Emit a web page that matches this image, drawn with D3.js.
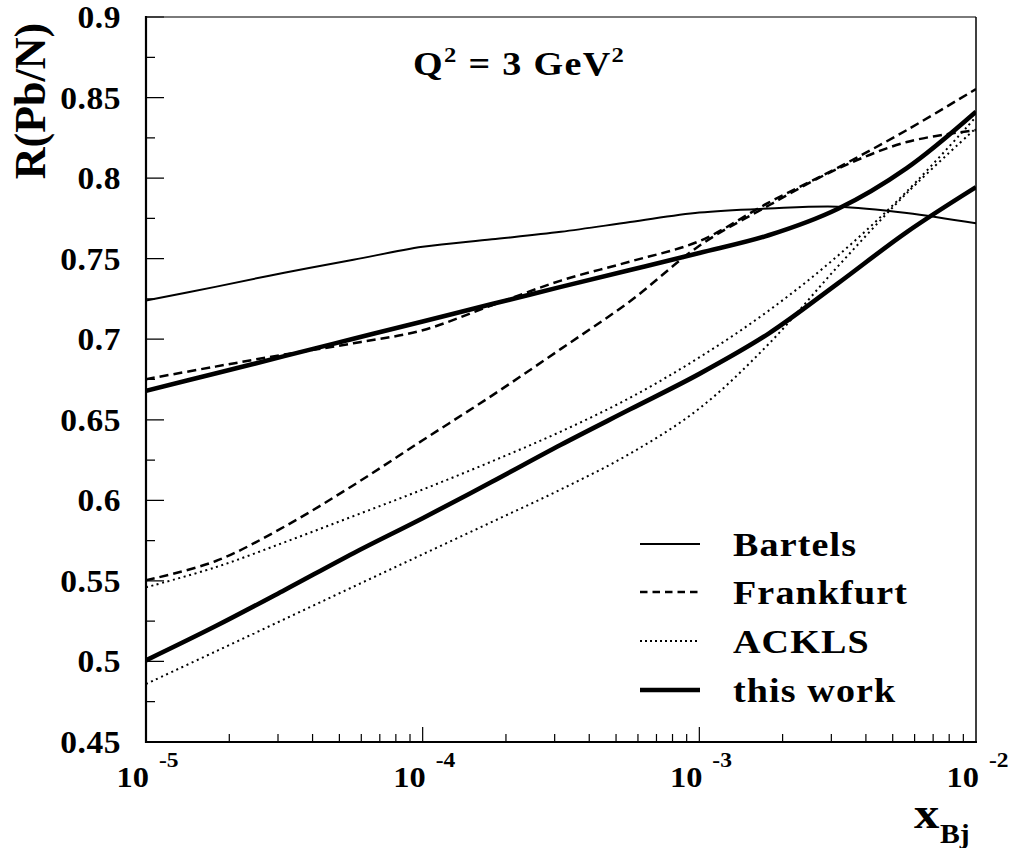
<!DOCTYPE html>
<html>
<head>
<meta charset="utf-8">
<script src="https://cdn.jsdelivr.net/npm/d3@7"></script>
<style>
  html, body { margin: 0; padding: 0; background: #fff; }
  svg text { font-family: "Liberation Serif", "Times New Roman", serif; font-weight: bold; fill: #000; }
</style>
</head>
<body>
<svg id="chart" width="1016" height="848"></svg>
<script>
// x_Bj sampling points (quarter decades from 1e-5 to 1e-2)
const xValues = [1.0e-5, 1.78e-5, 3.16e-5, 5.62e-5, 1.0e-4, 1.78e-4, 3.16e-4, 5.62e-4, 1.0e-3, 1.78e-3, 3.16e-3, 5.62e-3, 1.0e-2];

// R(Pb/N) for each model
const bartels    = [0.724, 0.7325, 0.7413, 0.7493, 0.7574, 0.762, 0.7667, 0.7727, 0.7786, 0.7811, 0.7823, 0.7784, 0.7719];
const frankfurtA = [0.6752, 0.683, 0.6905, 0.6975, 0.7056, 0.7211, 0.7364, 0.7482, 0.7609, 0.7848, 0.8064, 0.8298, 0.8553];
const frankfurtB = [0.5504, 0.5622, 0.5836, 0.6094, 0.6373, 0.665, 0.694, 0.7236, 0.758, 0.783, 0.8058, 0.8224, 0.8298];
const acklsA     = [0.546, 0.5584, 0.5739, 0.5902, 0.6067, 0.6242, 0.6427, 0.6637, 0.6887, 0.7177, 0.7517, 0.7917, 0.838];
const acklsB     = [0.486, 0.5061, 0.5262, 0.5464, 0.5665, 0.5866, 0.6068, 0.629, 0.657, 0.697, 0.745, 0.7907, 0.831];
const thisWorkA  = [0.668, 0.6787, 0.6895, 0.7003, 0.711, 0.7218, 0.7325, 0.743, 0.7535, 0.7645, 0.7808, 0.8062, 0.8412];
const thisWorkB  = [0.5007, 0.5218, 0.5442, 0.5672, 0.5889, 0.6115, 0.6345, 0.6565, 0.6785, 0.7035, 0.7345, 0.7665, 0.7944];

// axis ticks and labels
const yTicks = [0.45, 0.5, 0.55, 0.6, 0.65, 0.7, 0.75, 0.8, 0.85, 0.9];
const yTickLabels = ["0.45", "0.5", "0.55", "0.6", "0.65", "0.7", "0.75", "0.8", "0.85", "0.9"];
const yMinorTicks = [0.475, 0.525, 0.575, 0.625, 0.675, 0.725, 0.775, 0.825, 0.875];
const xDecades = [1e-5, 1e-4, 1e-3, 1e-2];
const xExponents = ["-5", "-4", "-3", "-2"];

const legendNames = ["Bartels", "Frankfurt", "ACKLS", "this work"];

const styles = {
  thin:   { width: 2,   dash: null },
  dashed: { width: 2.5, dash: "9,5" },
  dotted: { width: 2,   dash: "2,3.6" },
  thick:  { width: 4.6, dash: null }
};

const series = [
  { values: bartels,    style: "thin" },
  { values: frankfurtA, style: "dashed" },
  { values: frankfurtB, style: "dashed" },
  { values: acklsA,     style: "dotted" },
  { values: acklsB,     style: "dotted" },
  { values: thisWorkA,  style: "thick" },
  { values: thisWorkB,  style: "thick" }
];
const legendStyles = ["thin", "dashed", "dotted", "thick"];

const L = 146, R = 976, T = 17, B = 742;
const svg = d3.select("#chart");

const x = d3.scaleLog().domain([1e-5, 1e-2]).range([L, R]);
const y = d3.scaleLinear().domain([0.45, 0.9]).range([B, T]);

// text helper with slight horizontal stretch, like the plotting package's font
function label(g, px, py, str, size, anchor, sx, ls) {
  return g.append("text")
    .attr("transform", `translate(${px},${py}) scale(${sx || 1},1)`)
    .attr("text-anchor", anchor || "start")
    .attr("font-size", size)
    .attr("letter-spacing", ls || 0)
    .text(str);
}

svg.append("defs").append("clipPath").attr("id", "plotclip")
  .append("rect").attr("x", L).attr("y", T).attr("width", R - L).attr("height", B - T);

// curves
const line = d3.line()
  .x((d, i) => x(xValues[i]))
  .y(d => y(d))
  .curve(d3.curveCatmullRom.alpha(0.5));

const curves = svg.append("g").attr("clip-path", "url(#plotclip)");
series.forEach(s => {
  const st = styles[s.style];
  curves.append("path")
    .datum(s.values)
    .attr("d", line)
    .attr("fill", "none")
    .attr("stroke", "#000")
    .attr("stroke-width", st.width)
    .attr("stroke-dasharray", st.dash);
});

// frame: top and right edges
svg.append("line").attr("x1", L).attr("x2", R).attr("y1", T).attr("y2", T)
  .attr("stroke", "#7a7a7a").attr("stroke-width", 2);
svg.append("line").attr("x1", R).attr("x2", R).attr("y1", T).attr("y2", B)
  .attr("stroke", "#000").attr("stroke-width", 1.5);

// tick marks, all in one path (pointing inward)
const xMinor = [];
for (let d = 0; d < xDecades.length - 1; d++) {
  for (let m = 2; m <= 9; m++) xMinor.push(xDecades[d] * m);
}
const tickPath = d3.path();
yTicks.forEach(v => { tickPath.moveTo(L, y(v)); tickPath.lineTo(L + 18, y(v)); });
yMinorTicks.forEach(v => { tickPath.moveTo(L, y(v)); tickPath.lineTo(L + 9, y(v)); });
xDecades.slice(1, -1).forEach(v => { tickPath.moveTo(x(v), B); tickPath.lineTo(x(v), B - 15); });
xMinor.forEach(v => { tickPath.moveTo(x(v), B); tickPath.lineTo(x(v), B - 8); });
svg.append("path")
  .attr("d", tickPath.toString())
  .attr("fill", "none")
  .attr("stroke", "#000")
  .attr("stroke-width", 1.2);

// left and bottom axis lines
svg.append("line").attr("x1", L).attr("x2", L).attr("y1", T - 1).attr("y2", B + 1)
  .attr("stroke", "#000").attr("stroke-width", 2.2);
svg.append("line").attr("x1", L - 1).attr("x2", R + 1).attr("y1", B).attr("y2", B)
  .attr("stroke", "#000").attr("stroke-width", 2.2);

yTicks.forEach((v, i) => {
  label(svg, 121, y(v) + 11, yTickLabels[i], 31, "end", 1.08, 0.5);
});

xDecades.forEach((v, i) => {
  const px = x(v);
  label(svg, px + 3, 787, "10", 30, "end", 1.08);
  label(svg, px + 13, 767, xExponents[i], 21, "start", 1.12);
});

// axis titles
svg.append("text")
  .attr("transform", "translate(45,101) rotate(-90)")
  .attr("text-anchor", "middle")
  .attr("font-size", 44)
  .text("R(Pb/N)");

label(svg, 914, 828, "x", 44, "start", 1.15);
label(svg, 940, 843, "Bj", 27, "start", 1.1);

// Q^2 annotation
const q = svg.append("text")
  .attr("transform", "translate(413,75) scale(1.12,1)")
  .attr("font-size", 34)
  .attr("letter-spacing", 1.2);
q.append("tspan").text("Q");
q.append("tspan").attr("font-size", 22).attr("dy", -13).text("2");
q.append("tspan").attr("dy", 13).text(" = 3 GeV");
q.append("tspan").attr("font-size", 22).attr("dy", -13).text("2");

// legend
const legendY = [544, 592, 641, 690];
legendNames.forEach((name, i) => {
  const st = styles[legendStyles[i]];
  svg.append("line")
    .attr("x1", 640).attr("x2", 700)
    .attr("y1", legendY[i]).attr("y2", legendY[i])
    .attr("stroke", "#000")
    .attr("stroke-width", st.width)
    .attr("stroke-dasharray", legendStyles[i] === "dashed" ? "7.5,5" : (legendStyles[i] === "dotted" ? "2,3" : null));
  label(svg, 733, legendY[i] + 12, name, 34, "start", 1.12, 1);
});
</script>
</body>
</html>
